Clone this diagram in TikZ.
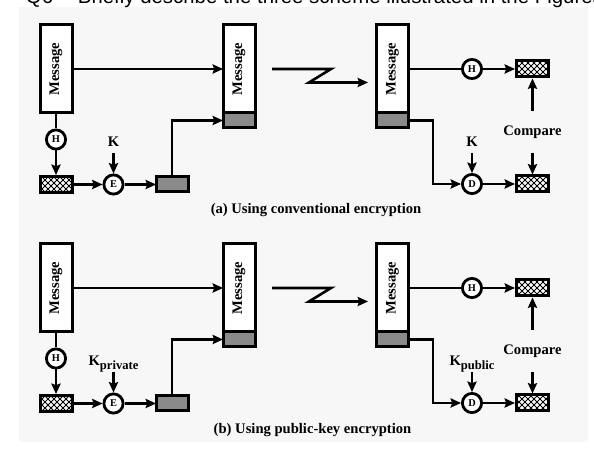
\documentclass[tikz,border=0pt]{standalone}
\usepackage{fontspec}
\setmainfont{Liberation Serif}
\newfontfamily\headfont{Liberation Sans}
\usepackage{graphicx}
\usetikzlibrary{arrows.meta,patterns}

\definecolor{panelgray}{RGB}{247,247,247}
\definecolor{siggray}{RGB}{138,138,138}

\newcommand{\lblfont}{\fontsize{7.3pt}{8.6pt}\selectfont\bfseries}
\newcommand{\opfont}{\fontsize{5.2pt}{6pt}\selectfont\bfseries}
\newcommand{\qfont}{\headfont\fontsize{10.2pt}{12pt}\selectfont}
\newcommand{\subkey}[1]{K\raisebox{-2pt}{\fontsize{6.3pt}{7pt}\selectfont\bfseries #1}}

\begin{document}
\begin{tikzpicture}[x=0.5pt, y=-0.5pt, line width=1.3pt,
    >={Stealth[length=5.2pt,width=4.6pt,inset=0.8pt]},
    every node/.style={font=\lblfont},
    msgbox/.style={draw, line width=1.5pt, fill=white, minimum width=16pt, minimum height=44pt, inner sep=0pt, outer sep=0pt},
    sigbox/.style={draw, line width=1.5pt, fill=siggray, minimum width=16pt, minimum height=7.5pt, inner sep=0pt, outer sep=0pt},
    hashbox/.style={draw, line width=1.5pt, minimum width=16pt, minimum height=8pt, inner sep=0pt,
        preaction={fill=white}, preaction={pattern=north east lines}, preaction={pattern=north west lines}},
    opnode/.style={circle, draw, line width=1.4pt, fill=white, minimum size=9.6pt, inner sep=0pt, font=\opfont},
    keylbl/.style={text height=5pt, text depth=0pt, inner sep=2.4pt},
    cmplbl/.style={minimum height=20pt, inner sep=0pt}]

    \useasboundingbox (0,0) rectangle (594,453);
    \fill[panelgray] (19,7) rectangle (588,442);

    % question line, cut by the top of the page
    \node[anchor=base west, font=\qfont] (qnum) at (18,4) {Q6};
    \node[anchor=base west, font=\qfont] (qtext) at (70,4) {Briefly describe the three scheme illustrated in the Figures};

    % (a) conventional encryption
    \node[msgbox] (msg1a) at (56,69) {\rotatebox{90}{Message}};
    \node[opnode] (h1a) at (56,139.5) {H};
    \node[hashbox] (hash1a) at (56,184.5) {};
    \node[keylbl] (key1a) at (113.5,141.5) {K};
    \node[opnode] (enc1a) at (113.5,184.5) {E};
    \node[sigbox] (sig1a) at (172,184.5) {};
    \node[msgbox] (msg2a) at (239,69) {\rotatebox{90}{Message}};
    \node[sigbox, anchor=north] (sig2a) at (msg2a.south) {};

    \draw (msg1a) -- (h1a);
    \draw[->] (h1a) -- (hash1a);
    \draw[->] (hash1a) -- (enc1a);
    \draw[->] (key1a) -- (enc1a);
    \draw[->] (enc1a) -- (sig1a);
    \draw[->] (sig1a.north) |- (sig2a.west);
    \draw[->] (msg1a) -- (msg2a);

    \coordinate (za1) at (272,69);
    \coordinate (za2) at (331,69);
    \coordinate (za3) at (309,82.5);
    \coordinate (za4) at (368,82.5);
    \draw[->] (za1) -- (za2) -- (za3) -- (za4);

    \node[msgbox] (msg3a) at (392.5,69) {\rotatebox{90}{Message}};
    \node[sigbox, anchor=north] (sig3a) at (msg3a.south) {};
    \node[opnode] (h3a) at (472,69) {H};
    \node[hashbox] (hash3a) at (532.5,69) {};
    \node[keylbl] (key3a) at (472,141.5) {K};
    \node[opnode] (dec3a) at (472,184) {D};
    \node[hashbox] (hash4a) at (532.5,184) {};
    \node[cmplbl] (cmpa) at (532.5,132) {Compare};

    \draw (msg3a) -- (h3a);
    \draw[->] (h3a) -- (hash3a);
    \draw[->] (sig3a.east) -- ++(24.5,0) |- (dec3a);
    \draw[->] (key3a) -- (dec3a);
    \draw[->] (dec3a) -- (hash4a);
    \draw[->] (cmpa) -- (hash3a);
    \draw[->] (cmpa) -- (hash4a);

    \node (capa) at (316,210) {(a) Using conventional encryption};

    % (b) public-key encryption
    \node[msgbox] (msg1b) at (56,288) {\rotatebox{90}{Message}};
    \node[opnode] (h1b) at (56,358.5) {H};
    \node[hashbox] (hash1b) at (56,403.5) {};
    \node[keylbl] (key1b) at (113.5,360.5) {\subkey{private}};
    \node[opnode] (enc1b) at (113.5,403.5) {E};
    \node[sigbox] (sig1b) at (172,403.5) {};
    \node[msgbox] (msg2b) at (239,288) {\rotatebox{90}{Message}};
    \node[sigbox, anchor=north] (sig2b) at (msg2b.south) {};

    \draw (msg1b) -- (h1b);
    \draw[->] (h1b) -- (hash1b);
    \draw[->] (hash1b) -- (enc1b);
    \draw[->] (key1b) -- (enc1b);
    \draw[->] (enc1b) -- (sig1b);
    \draw[->] (sig1b.north) |- (sig2b.west);
    \draw[->] (msg1b) -- (msg2b);

    \coordinate (zb1) at (272,288);
    \coordinate (zb2) at (331,288);
    \coordinate (zb3) at (309,301.5);
    \coordinate (zb4) at (368,301.5);
    \draw[->] (zb1) -- (zb2) -- (zb3) -- (zb4);

    \node[msgbox] (msg3b) at (392.5,288) {\rotatebox{90}{Message}};
    \node[sigbox, anchor=north] (sig3b) at (msg3b.south) {};
    \node[opnode] (h3b) at (472,288) {H};
    \node[hashbox] (hash3b) at (532.5,288) {};
    \node[keylbl] (key3b) at (472,360.5) {\subkey{public}};
    \node[opnode] (dec3b) at (472,403) {D};
    \node[hashbox] (hash4b) at (532.5,403) {};
    \node[cmplbl] (cmpb) at (532.5,351) {Compare};

    \draw (msg3b) -- (h3b);
    \draw[->] (h3b) -- (hash3b);
    \draw[->] (sig3b.east) -- ++(24.5,0) |- (dec3b);
    \draw[->] (key3b) -- (dec3b);
    \draw[->] (dec3b) -- (hash4b);
    \draw[->] (cmpb) -- (hash3b);
    \draw[->] (cmpb) -- (hash4b);

    \node (capb) at (312.5,430) {(b) Using public-key encryption};
\end{tikzpicture}
\end{document}
